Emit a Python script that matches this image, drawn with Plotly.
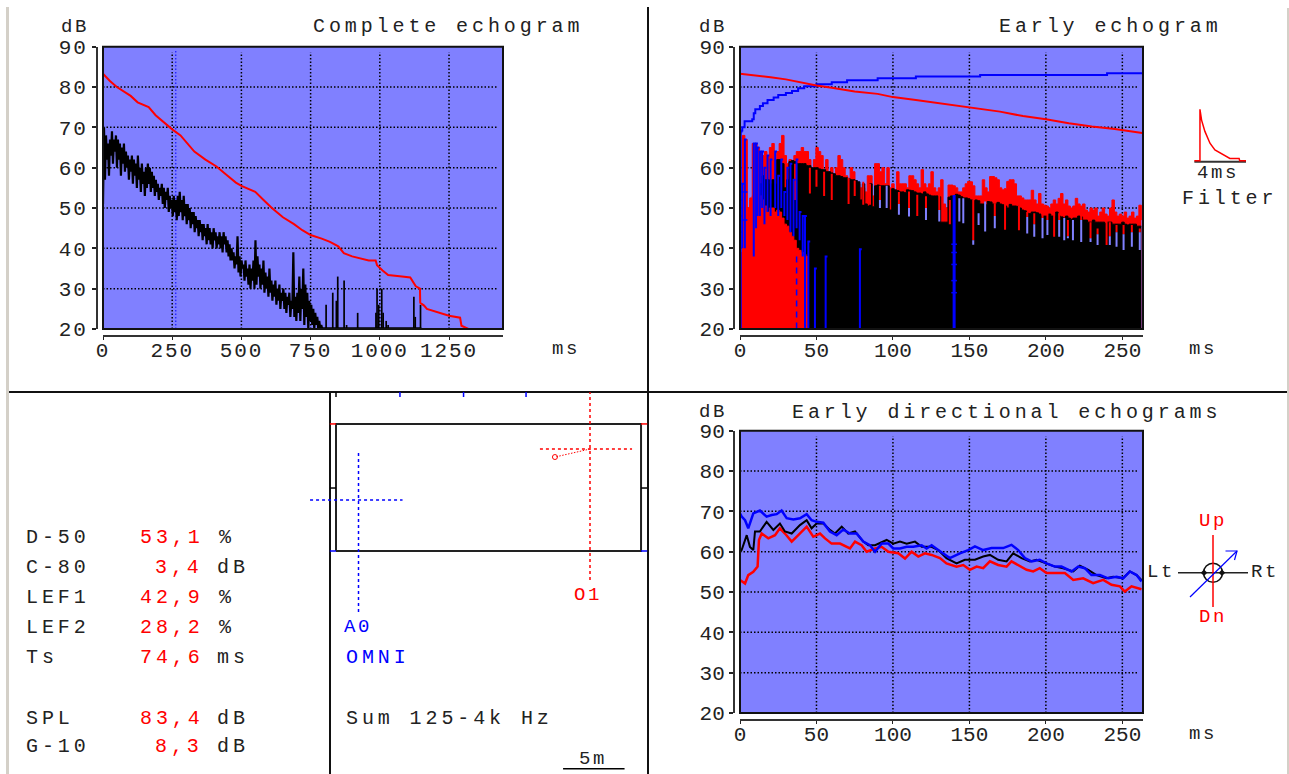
import plotly.graph_objects as go

W, H = 1289, 774
FONT = "Liberation Mono"
BG = "#8080ff"
RED = "#ff0000"
BLUE = "#0000ff"
BLACK = "#000000"

# ---------- Complete echogram ----------
complete_step_ms = 3.6
complete_level = [
    51,70,57,68,62,66,58,67,63,69,61,67,64,68,60,
    67,62,66,58,65,61,66,59,64,60,63,57,62,59,63,
    56,62,58,61,55,63,57,60,54,61,56,59,53,60,55,
    61,56,60,54,59,55,58,53,57,54,56,52,55,53,56,
    51,55,50,54,52,55,49,53,50,52,48,53,49,52,47,
    53,48,54,49,52,47,53,48,51,46,51,47,50,45,49,
    46,49,44,48,45,47,43,47,44,46,42,46,43,45,41,
    46,42,45,41,44,40,45,42,44,40,43,41,44,40,43,
    39,44,41,43,39,42,38,41,37,40,37,39,35,38,36,
    43,34,38,33,37,35,36,32,37,33,35,31,36,30,35,
    32,37,30,42,31,38,33,36,30,35,31,37,29,34,30,
    33,28,35,29,32,27,31,28,32,26,30,27,31,25,29,
    27,30,25,29,24,28,26,29,23,27,25,39,23,28,22,
    29,24,33,22,30,25,35,21,31,23,29,20,27,22,26,
    21,25,20,24,21,23,20,22,20,21,20,20,20]
late_spike_t = [806,830,843,848,871,880,920,986,990,996,1007,1012,1023,1030,1123,1128,1147]
late_spike_top = [26,29,27,33,32,21,24,24,30,26,30,24,22,21,28,23,26]
late_floor_t = [780,1150]
late_floor_db = [20.2,20.2]
complete_decay_t = [0,25,50,75,100,125,165,190,215,250,280,300,330,370,410,450,480,500,550,580,610,650,690,720,750,790,820,850,870,900,960,985,990,1010,1030,1080,1110,1130,1145,1146,1160,1170,1200,1250,1290,1295,1320,1440]
complete_decay_db = [83.3,81.5,80,78.8,77.8,76.2,75,73,71.5,69.5,68,66.5,64,62,60.3,58,56.3,55.5,54,52,50,47.7,46,44.5,43.3,42.4,41.6,40.5,38.8,38,37,37,35.8,34.5,33.4,33,32.8,30.6,30,26.5,25.8,25,24.3,23.3,22.8,20.8,20,20]
early_limit_ms = 263

# ---------- Early echogram ----------
early_step_ms = 1.6
early_red_env = [20,68,67,50,52,66,66,65,64,63,64,63,65,66,62,64,66,68,63,61,62,61,63,64,64,65,64,64,62,54,
    62,65,64,63,58,62,59,60,58,60,63,62,60,58,57,60,59,55,56,55,55,54,58,58,53,61,61,59,60,56,
    60,55,56,54,59,56,56,56,55,58,58,57,56,55,59.5,56,55,56,59,55,54,55,57,51,50,55.7,55.7,55.5,55,54,
    54,55,56,56.6,56.5,55.5,53,53,53,57,55,54,57.8,57.8,57.5,57,55,54.5,54.8,56.6,57,57,56,53,53,52.5,
    52,52,52,54.4,52,51,53.6,51,50.7,50.5,50,51,52,51,52.4,53.6,51,52,50.5,50,50.5,52.4,51,50.5,51,
    49.5,49,50,49.5,50,48,49,50,48.5,48,50,52,49,48,48.5,48,49,47.5,48,49,47.5,48,50.7,47]
early_black_env = [20,20,20,20,20,40,45,50,56,58,57,57,56,57,56,62,62,61,55,57,61.5,61.8,61.5,61,61,61,61,60.5,60.5,60,
    60,60,59.7,59.5,59.5,59,59,58.7,58.5,58,58,57.8,57.5,57.5,57.3,57,57,56.8,56.5,52,56,51,50.5,56,50.3,55.5,55.7,55.5,55.5,55.5,
    55.5,49.5,54.8,54.5,54.3,54,54,53.8,54.5,54.4,54.3,54,53.7,53.7,53.5,54,53.5,53.2,53,53,53,52.8,46.5,46.5,46.5,52.7,53,52.9,53.4,53.2,
    52.8,52.5,52.5,52.3,52,51.8,52,51.8,51,51,50.8,51.6,51.5,51,51,51.4,51,50.8,50.5,50,50.9,50.5,50.5,50.4,50,49.5,49.3,48.7,48.6,49,
    49,48.8,48.5,48,48,48,48.5,48,48,49,48,47.8,47.5,48,47.5,47.2,47.5,47.5,48,47.8,47,47,46.5,46.5,47,
    46.5,46.5,46.5,46.5,46.2,46.5,46.5,46,46,46,46,46.5,46,45.8,46,46,46,45.5,45.5,45.5]
early_front_red = [39,50,47,50,52.5,53,52,53,53,52,50.5,49,50,50,49,49.5,49,47.5,46,45.5,44,43,42,40,39.5,39,38.5,38,20]
notch_t = [36,45.7,50,55,60,71,75,80.6,85,91.5,95.9,103.9,110.5,115.9,121.6,130.3,137.2,143.4,146,152.5,156,160.3,166.6,173.3,
    182.4,187.8,192.4,197.8,201,205.4,208.7,212,214.4,217.7,223.1,229.2,233.8,239.7,241.8,246.2,250.8,256.2,261.4]
notch_top = [61,60,59.5,59,58.5,57.5,56.8,56.5,56,55.5,55.5,54,54.1,53.3,52.9,53.3,52,52.4,52.4,52,48.7,51.6,51.2,51.2,
    50.5,49,48.7,48.7,48.7,48.7,48.7,47.5,47,47,49,46.5,44.9,47,46.5,45.8,45.8,45.8,44.9]
notch_split = [52,53.6,55.3,53,52,51,53,50.8,50.8,52,55.5,51,50,48,50,49.5,46,52.4,52.4,42,48.7,51.6,48,44.6,
    44.5,47.8,46,47.5,47,42.9,47,47.5,43,47,47,42.5,43.5,40.8,43,44,43.5,44,44]
notch_bottom = [52,53.6,55.3,53,52,51,53,50.8,50.8,50,50,48.3,47.9,48,47,46.65,46,46.65,46.2,40.9,45.8,44.2,45,44.6,
    44.5,43.7,42.9,42.5,43.3,42.9,42.9,42,42.5,42,41.6,41.6,40.8,40.8,40.8,40.4,39.6,40.4,39.6]
spike_t = [0.5,1.5,3.2,9,10.5,11.5,13,14.5,16,18,20,23,25,27,29,31,33,35,37,39,41,42.5,44.7,49,56,78.4]
spike_top = [69,56,67,66,66,65,64,64,60,63,62,64,58,62,54,60,61,57,62,49,48,48,41.7,35,38,39.8]
spike_bottom = [20,40,40,38,45,48,48,50,46,49,48,50,48,50,48,47,44,43,45,42,38,20,20,20,20,20]
thick_spike_t = [140,140]
thick_spike_db = [53.2,20]
mark_t = [140,140,140,140,140,0,0,0,0,0,3,3]
mark_db = [41,39,36,32,29,56,54,52,48,44,54,47]
dashed_t = [37,37]
dashed_db = [38,20]
cum_t = [0,1.5,3,8,9,10,13,15,18,22,25,30,34,38,42,50,60,70,90,115,157,240,263]
cum_db = [69.2,70,71.5,72,73.5,74.5,75.3,76,76.8,77.4,78,78.5,79,79.7,80.2,80.7,81.2,81.7,82.2,82.6,83,83.4,83.4]
decay_t = [0,5,12,20,30,40,50,60,75,90,100,115,130,145,155,170,185,200,215,230,245,263]
decay_db = [83.3,83.1,82.9,82.4,81.9,81.1,80.4,79.8,78.9,78.3,77.5,76.8,76,75.2,74.7,73.9,72.8,72,71,70.2,69.6,68.6]

# ---------- Early directional echograms ----------
dir_blue_t = [0,1.1,3.3,5.4,8.7,13,17.4,20.7,24,27.2,30.5,34.9,39.2,43.6,46.8,50.1,54.5,58.8,63.2,67.5,71.9,76.3,80.6,85,88.3,92.6,97,100.2,104.6,109,113.3,118.8,122,125.3,129.6,134,137.2,143.8,149.2,153.6,159,164.5,172.1,177.5,181.9,186.3,190.6,196,200.4,205.9,210.2,216.8,221.1,225.5,229.8,235.3,240.7,246.2,250.5,254.9,259.3,262.5]
dir_blue_db = [69.5,68.7,67.8,65.8,69.5,70.2,68.7,69.1,69.3,70.2,68.3,68,68.3,69.3,67.8,67.4,67.2,65,64.1,65.5,64.5,64.5,62.5,61.6,60,62,62,60.8,60.8,61.2,61.2,61.6,60.8,61.6,60.4,59.2,58.4,59.6,60.4,61.3,60.4,60.9,60.9,61.7,60.4,58.4,57.6,58,57.1,56.3,56.3,55.1,56.3,55.9,54.2,54.2,53.4,53.8,53.4,55.1,54.2,52.6]
dir_black_t = [0,1.1,4.4,6.5,8.7,9.8,13,17.4,21.8,26.1,29.4,33.8,39.2,43.6,46.8,50.1,54.5,58.8,62.1,66.5,70.8,75.2,80.6,83.9,88.3,95.9,100.2,104.6,109,114.4,118.8,125.3,129.6,135,141.6,147,153.6,159,163.4,168.8,174.3,178.6,184.1,189.5,193.9,200.4,205.9,211.3,217.9,222.2,227.7,233.1,239.6,244,250.5,254.9,259.3,262.5]
dir_black_db = [60,60.4,64.1,61.2,60.4,65,65,67.4,65.4,67,65,64.5,66.6,67.8,65.8,67,67,65.4,64.5,66.2,64.5,65,62.5,61.6,61.6,62.9,62,62.5,62,62.5,61.2,61.2,60.4,58.4,57.1,58,58,58.8,59.2,58,57.6,59.6,58.4,57.6,58,57.1,56.3,55.9,55.1,56.5,55.5,54.2,53.4,53.8,53.4,55.1,54.2,53]
dir_red_t = [0,3.3,5.4,8.7,11.5,12.4,14.2,18.5,22.9,26.1,29.4,33.8,38.1,43.6,47.9,52.3,55.6,59.9,65.4,71.9,75.2,79.5,82.8,88.3,92.6,97,103.5,107.9,112.2,116.6,120.9,125.3,130.7,135,141.6,146,150.3,154.7,159,163.4,168.8,174.3,177.5,181.9,187.4,191.7,196,200.4,205.9,212.4,217.9,224.4,230.9,237.5,242.9,248.4,251.6,256,262.5]
dir_red_db = [53,52.1,54.2,55,56.3,62.9,64.5,63.3,64.1,65.8,64.5,62.5,64.1,66.2,63.7,64.5,63.3,62,62,60.8,62.5,61.6,60,60.8,61.2,60,59.6,58.3,60,58.8,59.6,59.2,58.4,57.1,56.3,56.7,55.5,56.3,55.9,57.6,56.7,56.3,57.6,56.7,55.5,55.1,55.9,54.7,54.7,54.7,53,53.4,52.2,53,51.8,51.4,50.1,51.4,50.7]

# ---------- shared ticks ----------
db_ticks = [20,30,40,50,60,70,80,90]
db_grid = [30,40,50,60,70,80]
complete_ticks = [0,250,500,750,1000,1250]
early_ticks = [0,50,100,150,200,250]
early_grid = [50,100,150,200,250]
complete_grid = [250,500,750,1000,1250]

# ---------- room plan (metres) ----------
room_x = [0,24.8,24.8,0,0]
room_y = [0,0,10.33,10.33,0]
a0_v_x = [1.83,1.83]; a0_v_y = [-4.96,8.05]
a0_h_x = [-2.11,5.41]; a0_h_y = [4.15,4.15]
o1_v_x = [20.65,20.65]; o1_v_y = [-2.36,12.9]
o1_h_x = [16.58,24.07]; o1_h_y = [8.29,8.29]
aim_x = [20.65,17.8]; aim_y = [8.29,7.64]
plan_blue_tick_x = [5.2,10.37,15.45]
plan_black_tick_x = [0]
scale_x = [18.46,23.46]; scale_y = [-17.7,-17.7]

# ---------- filter inset ----------
filter_t = [-0.5,0,0,0.14,0.43,0.87,1.3,2,2.6,3.4,3.45,4]
filter_amp = [0,0,1,0.79,0.57,0.34,0.21,0.12,0.045,0.045,0,0]
filter_base_t = [-0.5,4]
filter_base_amp = [-0.02,-0.02]

# ---------- direction cross ----------
cross_v_x = [0,0]; cross_v_y = [37.7,-34.3]
cross_h_x = [-35,35]; cross_h_y = [0,0]
arrow_x = [-23,24]; arrow_y = [-24.3,21.7]
head_x = [12.5,24,21.5]; head_y = [21.7,21.7,12.7]

# ---------- text ----------
params = ["D-50","C-80","LEF1","LEF2","Ts","SPL","G-10"]
values = ["53,1","3,4","42,9","28,2","74,6","83,4","8,3"]
units = ["%","dB","%","%","ms","dB","dB"]
rows_y = [537,567,597,627,657,718,746]


def px(x):
    return x / W


def py(y):
    return 1 - y / H


fig = go.Figure()


def line(x, y, ax, color=BLACK, width=1.5, dash=None, shape="linear", mode="lines", **kw):
    fig.add_trace(go.Scatter(x=x, y=y, xaxis="x" + ax, yaxis="y" + ax, mode=mode,
                             line=dict(color=color, width=width, dash=dash, shape=shape),
                             hoverinfo="skip", showlegend=False, **kw))


GRID_DASH = "1.5px,2px"


def gridlines(ax, xs, x_end):
    for g in db_grid:
        line([0, x_end], [g, g], ax, width=1.5, dash=GRID_DASH)
    for g in xs:
        line([g, g], [20, 88.6], ax, width=1.5, dash=GRID_DASH)


def spikes(t, top, bottom):
    xs, ys = [], []
    for a, b, c in zip(t, top, bottom):
        xs += [a, a, None]
        ys += [b, c, None]
    return xs, ys


# Panel 1
gridlines("", complete_grid, 1427)
line([early_limit_ms, early_limit_ms], [20, 89.2], "", color=BLUE, width=1, dash=GRID_DASH)
fig.add_trace(go.Scatter(x0=0, dx=complete_step_ms, y=complete_level, xaxis="x", yaxis="y", mode="lines",
                         line=dict(color=BLACK, width=2.2), hoverinfo="skip", showlegend=False))
lx, ly = spikes(late_spike_t, late_spike_top, [20] * len(late_spike_t))
line(lx, ly, "", width=1.7)
line(late_floor_t, late_floor_db, "", width=2)
line(complete_decay_t, complete_decay_db, "", color=RED, width=2)

# Panel 2
gridlines("2", early_grid, 260)
fig.add_trace(go.Scatter(x0=0, dx=early_step_ms, y=early_red_env, xaxis="x2", yaxis="y2", mode="lines",
                         line=dict(color=RED, width=1, shape="hv"), fill="tozeroy", fillcolor=RED,
                         hoverinfo="skip", showlegend=False))
fig.add_trace(go.Scatter(x0=0, dx=early_step_ms, y=early_black_env, xaxis="x2", yaxis="y2", mode="lines",
                         line=dict(color=BLACK, width=1, shape="hv"), fill="tozeroy", fillcolor=BLACK,
                         hoverinfo="skip", showlegend=False))
nx, ny = spikes(notch_t, notch_top, notch_split)
line(nx, ny, "2", color=RED, width=2)
nx, ny = spikes(notch_t, notch_split, notch_bottom)
line(nx, ny, "2", color=BG, width=2)
fig.add_trace(go.Scatter(x0=0, dx=early_step_ms, y=early_front_red, xaxis="x2", yaxis="y2", mode="lines",
                         line=dict(color=RED, width=1, shape="hv"), fill="tozeroy", fillcolor=RED,
                         hoverinfo="skip", showlegend=False))
bx, by = [], []
for a, b, c in zip(spike_t, spike_top, spike_bottom):
    bx += [a + 1.2, a, a, None]
    by += [b, b, c, None]
line(bx, by, "2", color=BLUE, width=2)
line(dashed_t, dashed_db, "2", color=BLUE, width=1.5, dash="6px,5px")
line(thick_spike_t, thick_spike_db, "2", color=BLUE, width=3)
fig.add_trace(go.Scatter(x=mark_t, y=mark_db, xaxis="x2", yaxis="y2", mode="markers",
                         marker=dict(symbol="line-ew", size=4, line=dict(color=BLUE, width=1.5)),
                         hoverinfo="skip", showlegend=False))
line(cum_t, cum_db, "2", color=BLUE, width=2, shape="hv")
line(decay_t, decay_db, "2", color=RED, width=2)

# Panel 3
gridlines("3", early_grid, 260)
line(dir_red_t, dir_red_db, "3", color=RED, width=2.5)
line(dir_black_t, dir_black_db, "3", color=BLACK, width=2)
line(dir_blue_t, dir_blue_db, "3", color=BLUE, width=2.5)

# Plan
line(room_x, room_y, "4", color="#222222", width=2)
line(a0_v_x, a0_v_y, "4", color=BLUE, width=1.5, dash="3px,3px")
line(a0_h_x, a0_h_y, "4", color=BLUE, width=1.5, dash="3px,3px")
line(o1_v_x, o1_v_y, "4", color=RED, width=1.5, dash="3px,3px")
line(o1_h_x, o1_h_y, "4", color=RED, width=1.5, dash="3px,3px")
line(aim_x, aim_y, "4", color=RED, width=1, dash="1.5px,1.5px")
fig.add_trace(go.Scatter(x=aim_x[1:], y=aim_y[1:], xaxis="x4", yaxis="y4", mode="markers",
                         marker=dict(symbol="circle-open", size=5, color=RED, line=dict(color=RED, width=1)),
                         hoverinfo="skip", showlegend=False))
tx, ty = spikes(plan_blue_tick_x, [12.93] * 3, [12.52] * 3)
line(tx, ty, "4", color=BLUE, width=1.5)
tx, ty = spikes(plan_black_tick_x, [12.93], [12.52])
line(tx, ty, "4", color=BLACK, width=1.5)
line([-0.5, 0, None, 24.8, 25.3], [10.33, 10.33, None, 10.33, 10.33], "4", color=RED, width=1.5)
line([-0.5, 0, None, 24.8, 25.3], [0, 0, None, 0, 0], "4", color=BLUE, width=1.5)
line([-0.5, 0, None, 24.8, 25.3], [5.12, 5.12, None, 5.12, 5.12], "4", color=BLACK, width=1.5)
line(scale_x, scale_y, "4", color=BLACK, width=1.5)

# Filter
line(filter_base_t, filter_base_amp, "5", color="#333333", width=2)
line(filter_t, filter_amp, "5", color=RED, width=1.5)

# Cross
line(cross_h_x, cross_h_y, "6", color="#222222", width=1.5)
fig.add_trace(go.Scatter(x=[0], y=[0], xaxis="x6", yaxis="y6", mode="markers",
                         marker=dict(symbol="circle-open", size=19, color="#111111",
                                     line=dict(color="#111111", width=1.5)),
                         hoverinfo="skip", showlegend=False))
fig.add_trace(go.Scatter(x=[-9, 9], y=[0, 0], xaxis="x6", yaxis="y6", mode="markers",
                         marker=dict(symbol="diamond", size=5, color="#111111"),
                         hoverinfo="skip", showlegend=False))
line(cross_v_x, cross_v_y, "6", color=RED, width=1.5)
line(arrow_x, arrow_y, "6", color=BLUE, width=1.2)
line(head_x, head_y, "6", color=BLUE, width=1.2)


def data_axes(suffix, x0, x1, y0, y1, xmax, xticks):
    tf = dict(family=FONT, size=21, color="#222222")
    fig.layout["xaxis" + suffix] = dict(
        domain=[px(x0), px(x1)], range=[0, xmax], anchor="free", position=py(y1 + 7),
        tickvals=xticks, ticktext=[str(v) for v in xticks], ticks="outside", ticklen=3, tickwidth=1,
        tickcolor="#222222", showline=True, linecolor="#333333", linewidth=2, showgrid=False, zeroline=False,
        tickfont=tf, tickangle=0, ticklabelstandoff=-8)
    fig.layout["yaxis" + suffix] = dict(
        domain=[py(y1), py(y0)], range=[20, 90], anchor="free", position=px(x0 - 6),
        tickvals=db_ticks, ticktext=[str(v) for v in db_ticks], ticks="outside", ticklen=4, tickwidth=1.5,
        tickcolor="#222222", showline=True, linecolor="#333333", linewidth=2, showgrid=False, zeroline=False,
        tickfont=tf)


def hidden_axes(suffix, x0, x1, y0, y1, xr, yr):
    fig.layout["xaxis" + suffix] = dict(domain=[px(x0), px(x1)], range=xr, visible=False,
                                        anchor="y" + suffix)
    fig.layout["yaxis" + suffix] = dict(domain=[py(y1), py(y0)], range=yr, visible=False,
                                        anchor="x" + suffix)


panels = [("", 103, 503, 46.7, 329, 1445, complete_ticks),
          ("2", 740, 1143, 46.7, 329, 263.5, early_ticks),
          ("3", 740, 1143, 430.7, 713, 263.5, early_ticks)]
shapes = []
for s, x0, x1, y0, y1, xm, xt in panels:
    data_axes(s, x0, x1, y0, y1, xm, xt)
    shapes.append(dict(type="rect", xref="paper", yref="paper", x0=px(x0), x1=px(x1), y0=py(y1), y1=py(y0),
                       fillcolor=BG, line=dict(width=0), layer="below"))
    shapes.append(dict(type="rect", xref="paper", yref="paper", x0=px(x0), x1=px(x1), y0=py(y1), y1=py(y0),
                       fillcolor="rgba(0,0,0,0)", line=dict(color="#111111", width=2), layer="above"))

hidden_axes("4", 300, 648, 385, 774, [(300 - 336) / 12.3, (648 - 336) / 12.3], [(551 - 774) / 12.3, (551 - 385) / 12.3])
hidden_axes("5", 1194.2, 1246, 107, 163, [-0.5, 4], [-0.045, 1.045])
hidden_axes("6", 1170, 1256, 530, 615, [-43, 43], [-42.3, 42.7])

for x0, y0, x1, y1, c, w in [(648, 7, 648, 774, "#111111", 2), (8, 392, 1289, 392, "#111111", 2),
                             (330, 392, 330, 774, "#111111", 2), (7.5, 7, 7.5, 774, "#d4d0c8", 3),
                             (1288, 8, 1288, 774, "#d4d0c8", 2)]:
    shapes.append(dict(type="line", xref="paper", yref="paper", x0=px(x0), x1=px(x1), y0=py(y0), y1=py(y1),
                       line=dict(color=c, width=w), layer="below"))

ann = []


def text(x, y, t, color="#222222", size=20):
    ann.append(dict(x=px(x), y=py(y), xref="paper", yref="paper", text=t, showarrow=False, xanchor="left",
                    align="left", yanchor="middle", borderpad=0, font=dict(family=FONT, size=size, color=color)))


for name, val, unit, ry in zip(params, values, units, rows_y):
    text(25, ry, name)
    text(139 if len(val) == 4 else 154, ry, val, RED)
    text(218 if unit == "%" else 216, ry, unit)

text(312, 27, "Complete echogram")
text(998, 27, "Early echogram")
text(791, 412, "Early directional echograms")
for x, y in [(60, 27), (698, 27), (698, 412)]:
    text(x, y, "dB", size=19)
for x, y in [(551, 349), (1188, 349), (1188, 734)]:
    text(x, y, "ms", size=19)
text(1196, 173, "4ms", size=19)
text(1181, 198, "Filter")
text(573, 595, "O1", RED, 19)
text(343, 627, "A0", BLUE, 19)
text(345, 657, "OMNI", BLUE)
text(345, 718, "Sum 125-4k Hz")
text(578, 759, "5m", size=19)
text(1198, 521, "Up", RED, 19)
text(1198, 617, "Dn", RED, 19)
text(1146, 572, "Lt", size=19)
text(1250, 572, "Rt", size=19)

fig.update_layout(width=W, height=H, autosize=False, margin=dict(l=0, r=0, t=0, b=0, pad=0, autoexpand=False),
                  paper_bgcolor="#ffffff", plot_bgcolor="rgba(0,0,0,0)", showlegend=False,
                  shapes=shapes, annotations=ann)

post = """
document.body.style.margin='0';document.body.style.overflow='hidden';
var gd=document.getElementById('{plot_id}');
function spacing(){
  gd.querySelectorAll('.annotation-text').forEach(function(e){
    e.style.letterSpacing=(parseFloat(e.style.fontSize)>=20?'3.9px':'2.6px');
    e.style.whiteSpace='pre';
  });
  gd.querySelectorAll('.xtick text, .ytick text').forEach(function(e){e.style.letterSpacing='1.9px';});
}
spacing();gd.on('plotly_afterplot',spacing);
"""
fig.write_html("out.html", post_script=post, config={"displayModeBar": False})
